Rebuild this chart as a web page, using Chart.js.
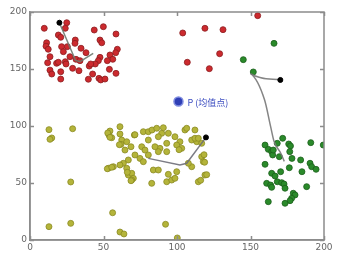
<!DOCTYPE html>
<html>
<head>
<meta charset="utf-8">
<script src="https://cdn.jsdelivr.net/npm/chart.js@4"></script>
<style>
  body { margin: 0; background: #fff; }
</style>
</head>
<body>
<canvas id="kmeansChart" width="348" height="255"></canvas>
<script>
// tick labels
const xTicks = [0, 50, 100, 150, 200];
const yTicks = [0, 50, 100, 150, 200];

// red cluster (top left)
const redPoints = [
  [25, 190.6], [24, 185.7], [9.7, 185.7], [19.3, 179.8], [20.9, 177.8], [11.3, 173],
  [10.9, 170], [12.4, 167.3], [21.5, 169.6], [25.4, 169.6], [22.7, 165.2], [30.8, 175.4],
  [27.2, 160.8], [34.7, 168.2], [38.1, 164.3], [31.3, 158.5], [34, 157.3], [12, 155.5],
  [18.1, 155], [19.3, 155.9], [24, 156.4], [24.5, 154.4], [13.6, 149], [14.8, 145.6],
  [20.9, 147.6], [20.9, 141.2], [29, 150.6], [33.3, 148.5], [40.3, 152.6], [42.6, 145.6],
  [39.7, 141], [46.9, 141.8], [48.1, 140.4], [51, 141.2], [43.7, 184.2], [49.9, 187.1],
  [47.6, 175.4], [48.8, 173], [58.5, 180.7], [59.4, 167.3], [58.3, 164.3], [54.4, 162.3],
  [47.6, 160.2], [46.5, 157.3], [56.3, 158.5], [44.4, 154.4], [41.3, 154.4], [52.6, 157.3],
  [54, 149.7], [58.5, 146.2], [30.6, 172.5], [13.6, 160.8],
  [154.9, 196.8], [103.9, 181.6], [119, 185.7], [131.3, 184.5], [129, 163.4], [107, 155.9],
  [122, 150.3],
];

// yellow cluster (middle)
const yellowPoints = [
  [54.4, 95.6], [53.7, 92.1], [55.6, 89.7], [61.2, 99.4], [62.4, 87.7], [61.9, 83.9],
  [65.8, 86.2], [64.6, 78.9], [68.7, 81.8], [71, 92.1], [77.1, 95], [80.5, 95],
  [83, 96.5], [86.2, 98], [89.6, 93.6], [87.3, 90.6], [90.7, 98.5], [94.1, 93.6],
  [98.6, 90.6], [105.4, 96.5], [112.2, 96.5], [110, 87.7], [113.4, 86.2], [116.8, 84.8],
  [102, 86.2], [103.2, 80.4], [99.8, 83.3], [93, 84.8], [88.4, 80.4], [87.3, 77.5],
  [93, 77.5], [76, 81.8], [78.2, 78.9], [80.5, 74.6], [74.8, 71.6], [77.1, 68.7],
  [71.4, 74.6], [66.9, 70.2], [63.5, 67.3], [65.8, 62.9], [61.2, 65.8], [53.3, 62.9],
  [56.7, 64.3], [66.9, 57], [69.2, 58.5], [70.3, 54.1], [69.2, 52.6], [83.9, 61.4],
  [87.3, 61.4], [94.1, 57.6], [99.8, 59.9], [93, 51.1], [96.4, 52.6], [98.6, 54.1],
  [82.8, 49.7], [110, 64.3], [116.8, 73.1], [117.9, 68.7], [119, 57], [114.5, 51.1],
  [106.6, 98], [112.2, 89.2], [114.5, 89.2], [107.7, 67.3], [80.5, 87.7], [85, 81.8],
  [60.8, 83.6], [61.2, 93], [71.4, 92.4], [66.2, 59.4], [68.7, 52], [52.9, 93.9],
  [54.4, 90.1], [52.6, 62.5], [55.6, 63.8], [116.1, 52.4], [120.2, 57.3], [118.8, 68.2],
  [118.4, 74.8], [101.4, 79.2],
  [12.9, 96.8], [29, 97.6], [14.8, 89.5], [13.6, 88.3], [27.7, 50.9], [56.2, 23.9],
  [12.9, 11.7], [27.7, 14.6], [61.2, 7], [63.9, 5.3], [92.2, 13.8], [100.2, 1.8],
];

// green cluster (right)
const greenPoints = [
  [166, 172.5], [145.1, 158.2], [151.9, 147.4],
  [159.9, 83.3], [162.1, 79.5], [164.4, 77.5], [165.1, 74.6], [168.2, 84.8], [171.9, 89.2],
  [176, 84.2], [177.2, 82.5], [176.7, 77.5], [169.6, 73.1], [178.2, 71.6], [184.1, 70.2],
  [191, 85.4], [199.5, 83.3], [159.9, 66.4], [176.4, 63.4], [185, 59.9], [190.5, 67.3],
  [191.6, 64.3], [194.6, 62], [170.5, 59.9], [164.4, 58.5], [166.7, 56.1], [161, 49.7],
  [163.7, 48.2], [164.4, 46.2], [168.2, 51.1], [171.2, 50.3], [172.8, 49.1], [173.5, 45.4],
  [188.2, 46.8], [179.1, 41], [180.3, 39.5], [178, 36.6], [176.9, 34.5], [173.5, 32.2],
  [162.1, 33.6], [165.5, 78.9],
];

// centroid paths, first point = initial centroid
const redPath = [[20, 190.6], [31, 157.5], [34, 156.5], [43, 163.8]];
const yellowPath = [[119.7, 90], [106.6, 67.3], [102, 65.8], [80.5, 71.6]];
const greenPath = [[170.3, 140.4], [150, 146], [159.6, 122.8], [163.7, 99.4], [166, 86.6], [170.5, 76.3], [173, 69]];

// overall mean point
const meanPoint = [101, 121.5];
const meanLabel = "P (均值点)";

const toXY = (arr) => arr.map((p) => ({ x: p[0], y: p[1] }));

// box round the plot, inward tick marks, label for P
const framePlugin = {
  id: "frame",
  afterDraw(chart) {
    const c = chart.ctx;
    const a = chart.chartArea;
    const xs = chart.scales.x;
    const ys = chart.scales.y;
    c.save();
    c.globalAlpha = 1;
    c.setLineDash([]);
    c.strokeStyle = "rgb(140, 140, 140)";
    c.lineWidth = 1.5;
    c.beginPath();
    c.rect(a.left, a.top, a.right - a.left, a.bottom - a.top);
    xTicks.forEach((v) => {
      const px = Math.round(xs.getPixelForValue(v)) + 0.5;
      c.moveTo(px, a.bottom);
      c.lineTo(px, a.bottom - 4);
      c.moveTo(px, a.top);
      c.lineTo(px, a.top + 4);
    });
    yTicks.forEach((v) => {
      const py = Math.round(ys.getPixelForValue(v)) + 0.5;
      c.moveTo(a.left, py);
      c.lineTo(a.left + 4, py);
      c.moveTo(a.right, py);
      c.lineTo(a.right - 4, py);
    });
    c.stroke();

    c.fillStyle = "#3b4cc0";
    c.font = '9px "Noto Sans CJK SC", sans-serif';
    c.textBaseline = "middle";
    c.fillText(meanLabel, xs.getPixelForValue(meanPoint[0]) + 9, ys.getPixelForValue(meanPoint[1]) + 1);
    c.restore();
  },
};

const ctx = document.getElementById("kmeansChart").getContext("2d");
const kmeansChart = new Chart(ctx, {
  type: "scatter",
  data: {
    datasets: [
      {
        label: "start",
        data: toXY([redPath[0], yellowPath[0], greenPath[0]]),
        backgroundColor: "#000000",
        borderColor: "#000000",
        pointRadius: 2.5,
      },
      {
        label: "red path",
        data: toXY(redPath),
        showLine: true,
        borderColor: "rgba(110, 120, 110, 0.9)",
        borderWidth: 1.5,
        pointRadius: 0,
      },
      {
        label: "yellow path",
        data: toXY(yellowPath),
        showLine: true,
        borderColor: "rgba(110, 110, 120, 0.9)",
        borderWidth: 1.5,
        pointRadius: 0,
      },
      {
        label: "green path",
        data: toXY(greenPath),
        showLine: true,
        cubicInterpolationMode: "monotone",
        borderColor: "rgba(120, 120, 120, 0.9)",
        borderWidth: 1.5,
        pointRadius: 0,
      },
      {
        label: "P",
        data: toXY([meanPoint]),
        backgroundColor: "#2f3fb5",
        borderColor: "#7f8ce0",
        borderWidth: 1.5,
        pointRadius: 4.5,
      },
      {
        label: "red",
        data: toXY(redPoints),
        backgroundColor: "#cc2a2e",
        borderColor: "#8a1d1f",
        borderWidth: 0.8,
        pointRadius: 3,
      },
      {
        label: "yellow",
        data: toXY(yellowPoints),
        backgroundColor: "#b4b43a",
        borderColor: "#8a8a22",
        borderWidth: 0.8,
        pointRadius: 3,
      },
      {
        label: "green",
        data: toXY(greenPoints),
        backgroundColor: "#2a8a2a",
        borderColor: "#1a5e1a",
        borderWidth: 0.8,
        pointRadius: 3,
      },
    ],
  },
  options: {
    responsive: false,
    animation: false,
    layout: {
      padding: { top: 12, right: 24, left: 0, bottom: 0 },
    },
    scales: {
      x: {
        type: "linear",
        min: 0,
        max: 200,
        afterFit: (scale) => { scale.height = 15; },
        afterBuildTicks: (scale) => { scale.ticks = xTicks.map((v) => ({ value: v })); },
        grid: { display: false, drawTicks: false },
        border: { display: true, color: "#8c8c8c", width: 1.5 },
        ticks: {
          color: "#666",
          padding: 2,
          maxRotation: 0,
          font: { family: "DejaVu Sans", size: 9 },
        },
      },
      y: {
        type: "linear",
        min: 0,
        max: 200,
        afterFit: (scale) => { scale.width = 30; },
        afterBuildTicks: (scale) => { scale.ticks = yTicks.map((v) => ({ value: v })); },
        grid: { display: false, drawTicks: false },
        border: { display: true, color: "#8c8c8c", width: 1.5 },
        ticks: {
          color: "#666",
          padding: 3,
          font: { family: "DejaVu Sans", size: 9 },
        },
      },
    },
    plugins: {
      legend: { display: false },
      tooltip: { enabled: false },
    },
  },
  plugins: [framePlugin],
});
</script>
</body>
</html>
